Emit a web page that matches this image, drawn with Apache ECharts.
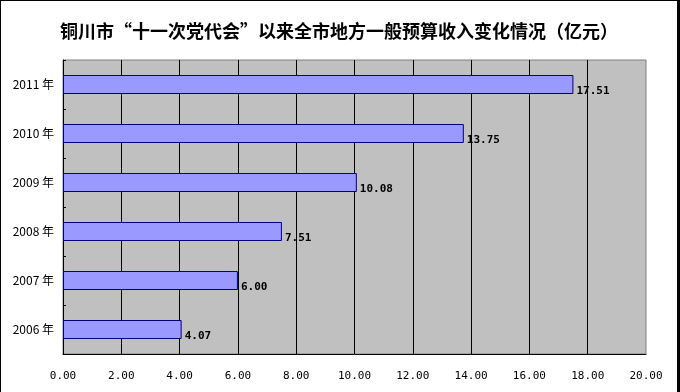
<!DOCTYPE html>
<html><head><meta charset="utf-8">
<script src="https://cdn.jsdelivr.net/npm/echarts@6/dist/echarts.min.js"></script>
<style>
html,body{margin:0;padding:0;background:#fff;}
#c{width:680px;height:392px;box-sizing:border-box;border-top:1px solid #000;border-left:1px solid #000;border-right:3px solid #000;}
</style></head>
<body><div id="c"></div>
<script>
const titleText = '铜川市“十一次党代会”以来全市地方一般预算收入变化情况（亿元）';
const categories = ['2006 年','2007 年','2008 年','2009 年','2010 年','2011 年'];
const values = [4.07, 6.00, 7.51, 10.08, 13.75, 17.51];

const chart = echarts.init(document.getElementById('c'));
chart.setOption({
  animation:false,
  backgroundColor:'#fff',
  title:{text:titleText,left:'center',top:16,textStyle:{fontFamily:'Noto Sans CJK SC',fontSize:18,fontWeight:'bold',color:'#000'}},
  grid:{left:62,right:31,top:59,bottom:38,show:true,backgroundColor:'#c0c0c0',borderColor:'#808080',borderWidth:1},
  xAxis:{type:'value',min:0,max:20,interval:2,
    axisLine:{show:true,lineStyle:{color:'#000'}},
    axisTick:{show:false},
    splitLine:{show:true,showMaxLine:false,lineStyle:{color:'#000',width:1}},
    axisLabel:{formatter:v=>v.toFixed(2),color:'#000',fontFamily:'DejaVu Sans Mono',fontSize:11,margin:17}},
  yAxis:{type:'category',data:categories,
    axisLine:{show:true,lineStyle:{color:'#000'}},
    axisTick:{show:true,inside:true,length:3,lineStyle:{color:'#000'}},
    axisLabel:{color:'#000',fontFamily:'Noto Sans CJK SC',fontSize:12,margin:9}},
  series:[{type:'bar',data:values,barWidth:19,
    itemStyle:{color:'#9999ff',borderColor:'#000080',borderWidth:1},
    label:{show:true,position:'right',distance:3,offset:[0,7],formatter:p=>p.value.toFixed(2),
      color:'#000',fontFamily:'DejaVu Sans Mono',fontWeight:'bold',fontSize:11}}]
});
</script></body></html>
